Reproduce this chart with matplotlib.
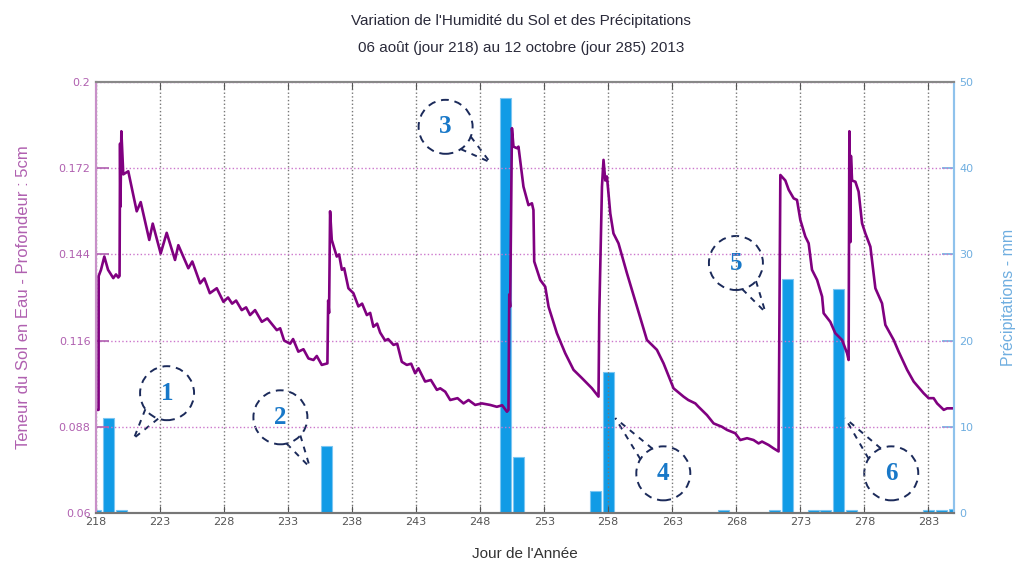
import numpy as np
import matplotlib.pyplot as plt
from matplotlib.patches import Ellipse

# Précipitations journalières (mm)
jours_pluie = [218, 219, 220, 236, 250, 251, 257, 258, 267, 271, 272, 274, 275, 276, 277, 283, 284, 285]
pluie = [0.4, 11.0, 0.4, 7.8, 48.1, 6.5, 2.6, 16.4, 0.3, 0.3, 27.1, 0.3, 0.3, 26.0, 0.4, 0.3, 0.3, 0.5]

# Teneur du sol en eau
jours_sol = [218.00, 218.20, 218.21, 218.39, 218.65, 218.94, 219.35, 219.56, 219.74, 219.84,
             219.88, 219.91, 219.98, 220.13, 220.52, 221.18, 221.49, 222.16, 222.43, 223.05,
             223.52, 224.17, 224.43, 225.21, 225.52, 226.13, 226.46, 226.89, 227.43, 227.95,
             228.31, 228.63, 228.94, 229.38, 229.72, 230.03, 230.42, 230.95, 231.38, 232.12,
             232.38, 232.69, 233.16, 233.39, 233.80, 234.20, 234.59, 234.98, 235.24, 235.63,
             236.07, 236.13, 236.20, 236.28, 236.41, 236.80, 236.98, 237.20, 237.38, 237.71,
             238.10, 238.49, 238.78, 239.15, 239.41, 239.66, 239.95, 240.19, 240.58, 240.81,
             241.23, 241.52, 241.88, 242.27, 242.61, 242.92, 243.18, 243.70, 244.15, 244.62,
             244.88, 245.27, 245.66, 246.23, 246.70, 247.09, 247.61, 248.13, 248.78, 249.30,
             249.72, 250.09, 250.21, 250.27, 250.34, 250.48, 250.60, 250.87, 250.99, 251.38,
             251.77, 252.04, 252.16, 252.22, 252.69, 253.08, 253.34, 253.99, 254.64, 255.29,
             255.95, 256.73, 257.24, 257.30, 257.51, 257.63, 257.77, 257.90, 258.16, 258.41,
             258.80, 259.46, 260.24, 261.02, 261.80, 262.32, 262.84, 263.10, 263.88, 264.25,
             264.80, 265.05, 265.71, 266.23, 266.88, 267.27, 267.92, 268.31, 268.84, 269.35,
             269.74, 270.01, 270.52, 270.91, 271.30, 271.36, 271.44, 271.83, 272.09, 272.48,
             272.74, 273.00, 273.39, 273.65, 273.91, 274.31, 274.70, 274.82, 275.34, 275.73,
             276.26, 276.65, 276.77, 276.83, 276.91, 276.95, 277.04, 277.30, 277.55, 277.82,
             278.08, 278.47, 278.86, 279.38, 279.64, 280.29, 280.68, 281.34, 281.85, 282.63,
             283.02, 283.41, 283.68, 284.20, 284.46, 284.98]
humidite = [0.0935, 0.0935, 0.1370, 0.1390, 0.1433, 0.1390, 0.1363, 0.1375, 0.1365, 0.1370,
            0.1800, 0.1595, 0.1840, 0.1700, 0.1710, 0.1580, 0.1610, 0.1487, 0.1540, 0.1443,
            0.1510, 0.1422, 0.1470, 0.1395, 0.1417, 0.1346, 0.1362, 0.1314, 0.1330, 0.1286,
            0.1300, 0.1280, 0.1290, 0.1259, 0.1268, 0.1243, 0.1259, 0.1221, 0.1232, 0.1194,
            0.1200, 0.1160, 0.1150, 0.1165, 0.1124, 0.1132, 0.1102, 0.1097, 0.1110, 0.1081,
            0.1086, 0.1290, 0.1250, 0.1580, 0.1487, 0.1433, 0.1440, 0.1390, 0.1395, 0.1330,
            0.1314, 0.1271, 0.1280, 0.1243, 0.1250, 0.1205, 0.1215, 0.1186, 0.1160, 0.1165,
            0.1146, 0.1150, 0.1091, 0.1081, 0.1085, 0.1054, 0.1070, 0.1027, 0.1032, 0.1000,
            0.1005, 0.0994, 0.0967, 0.0973, 0.0956, 0.0967, 0.0951, 0.0956, 0.0951, 0.0945,
            0.0950, 0.0929, 0.0935, 0.1310, 0.1270, 0.1850, 0.1790, 0.1785, 0.1790, 0.1660,
            0.1600, 0.1606, 0.1584, 0.1417, 0.1357, 0.1335, 0.1270, 0.1184, 0.1119, 0.1065,
            0.1038, 0.1005, 0.0978, 0.1248, 0.1660, 0.1747, 0.1680, 0.1693, 0.1573, 0.1508,
            0.1476, 0.1379, 0.1270, 0.1162, 0.1130, 0.1086, 0.1032, 0.1005, 0.0978, 0.0967,
            0.0956, 0.0945, 0.0918, 0.0891, 0.0880, 0.0870, 0.0859, 0.0837, 0.0843, 0.0837,
            0.0826, 0.0832, 0.0821, 0.0810, 0.0800, 0.1167, 0.1698, 0.1680, 0.1650, 0.1622,
            0.1617, 0.1552, 0.1498, 0.1476, 0.1390, 0.1357, 0.1303, 0.1249, 0.1221, 0.1184,
            0.1162, 0.1119, 0.1097, 0.1840, 0.1480, 0.1760, 0.1680, 0.1676, 0.1644, 0.1541,
            0.1508, 0.1465, 0.1330, 0.1281, 0.1211, 0.1162, 0.1124, 0.1065, 0.1027, 0.0989,
            0.0973, 0.0973, 0.0956, 0.0935, 0.0940, 0.0940]

x_ticks = list(range(218, 285, 5))
y_ticks = [0.06, 0.088, 0.116, 0.144, 0.172, 0.2]
y_labels = ["0.06", "0.088", "0.116", "0.144", "0.172", "0.2"]
p_ticks = [0, 10, 20, 30, 40, 50]

# bulles numérotées : (numéro, centre jour, centre mm, pointe jour, pointe mm)
bulles = [(1, 223.55, 13.9, 220.97, 8.7),
          (2, 232.4, 11.1, 234.7, 5.3),
          (3, 245.3, 44.8, 248.77, 40.7),
          (4, 262.3, 4.6, 258.55, 11.0),
          (5, 267.97, 29.0, 270.27, 23.3),
          (6, 280.1, 4.6, 276.5, 11.0)]

violet = "#800080"
violet_clair = "#B060B0"
bleu = "#119BE6"
bleu_axe = "#6FAEE0"
police = ["Liberation Sans", "DejaVu Sans"]

fig = plt.figure(figsize=(10.17, 5.67), dpi=100)
ax1 = fig.add_axes([96 / 1017, 1 - 513 / 567, (954 - 96) / 1017, (513 - 82) / 567])
ax2 = ax1.twinx()
ax1.set_zorder(ax2.get_zorder() + 1)
ax1.patch.set_visible(False)

ax2.bar(jours_pluie, pluie, width=0.85, color=bleu, edgecolor="#7CC6F2", linewidth=0.8)
ax1.plot(jours_sol, humidite, color=violet, linewidth=1.9)

ax1.set_xlim(218, 285)
ax1.set_ylim(0.06, 0.2)
ax2.set_ylim(0, 50)

ax1.set_xticks(x_ticks)
ax1.set_yticks(y_ticks)
ax1.set_yticklabels(y_labels)
ax2.set_yticks(p_ticks)

ax1.tick_params(axis="x", direction="in", length=5, top=True, colors="#555555", labelsize=8, pad=3)
ax1.tick_params(axis="y", direction="in", length=9, colors=violet_clair, labelsize=8, width=1.2, pad=4)
ax2.tick_params(axis="y", direction="in", length=9, colors=bleu_axe, labelsize=8, width=1.2, pad=4)

ax1.xaxis.grid(True, linestyle=":", color="#777777", linewidth=1)
ax1.yaxis.grid(True, linestyle=":", color="#CC77CC", linewidth=1)

for a in (ax1, ax2):
    a.spines["left"].set_color("#C890C8")
    a.spines["right"].set_color("#8FC2EC")
    a.spines["top"].set_color("#888888")
    a.spines["bottom"].set_color("#777777")
    for s in a.spines.values():
        s.set_linewidth(1.5)

ax1.set_ylabel("Teneur du Sol en Eau - Profondeur : 5cm", color=violet_clair,
               fontsize=12, family=police, labelpad=20)
ax2.set_ylabel("Précipitations - mm", color=bleu_axe, fontsize=11.5, family=police, labelpad=20)
ax1.set_xlabel("Jour de l'Année", color="#333333", fontsize=11, family=police, labelpad=14)

fig.text(0.512, 0.963, "Variation de l'Humidité du Sol et des Précipitations",
         ha="center", va="center", fontsize=11, color="#2A2A3A", family=police)
fig.text(0.512, 0.915, "06 août (jour 218) au 12 octobre (jour 285) 2013",
         ha="center", va="center", fontsize=11, color="#2A2A3A", family=police)

# bulles en pointillés
px_j = ax2.bbox.width / 67
px_mm = ax2.bbox.height / 50
r = 27
for num, cx, cy, tx, ty in bulles:
    ax2.add_patch(Ellipse((cx, cy), 2 * r / px_j, 2 * r / px_mm, fill=False,
                          edgecolor="#1B2A5A", linestyle=(0, (4, 3)), linewidth=1.4,
                          zorder=5, clip_on=False))
    ang = np.arctan2((ty - cy) * px_mm, (tx - cx) * px_j)
    for d in (-0.3, 0.3):
        x0 = cx + r * np.cos(ang + d) / px_j
        y0 = cy + r * np.sin(ang + d) / px_mm
        ax2.plot([x0, tx], [y0, ty], color="#1B2A5A", linestyle=(0, (3, 3)), linewidth=1.4,
                 zorder=5, clip_on=False)
    ax2.text(cx, cy, str(num), ha="center", va="center", fontsize=18, fontweight="bold",
             color="#1878C8", family="Liberation Serif", zorder=6)

fig.savefig("out.png", dpi=100)
